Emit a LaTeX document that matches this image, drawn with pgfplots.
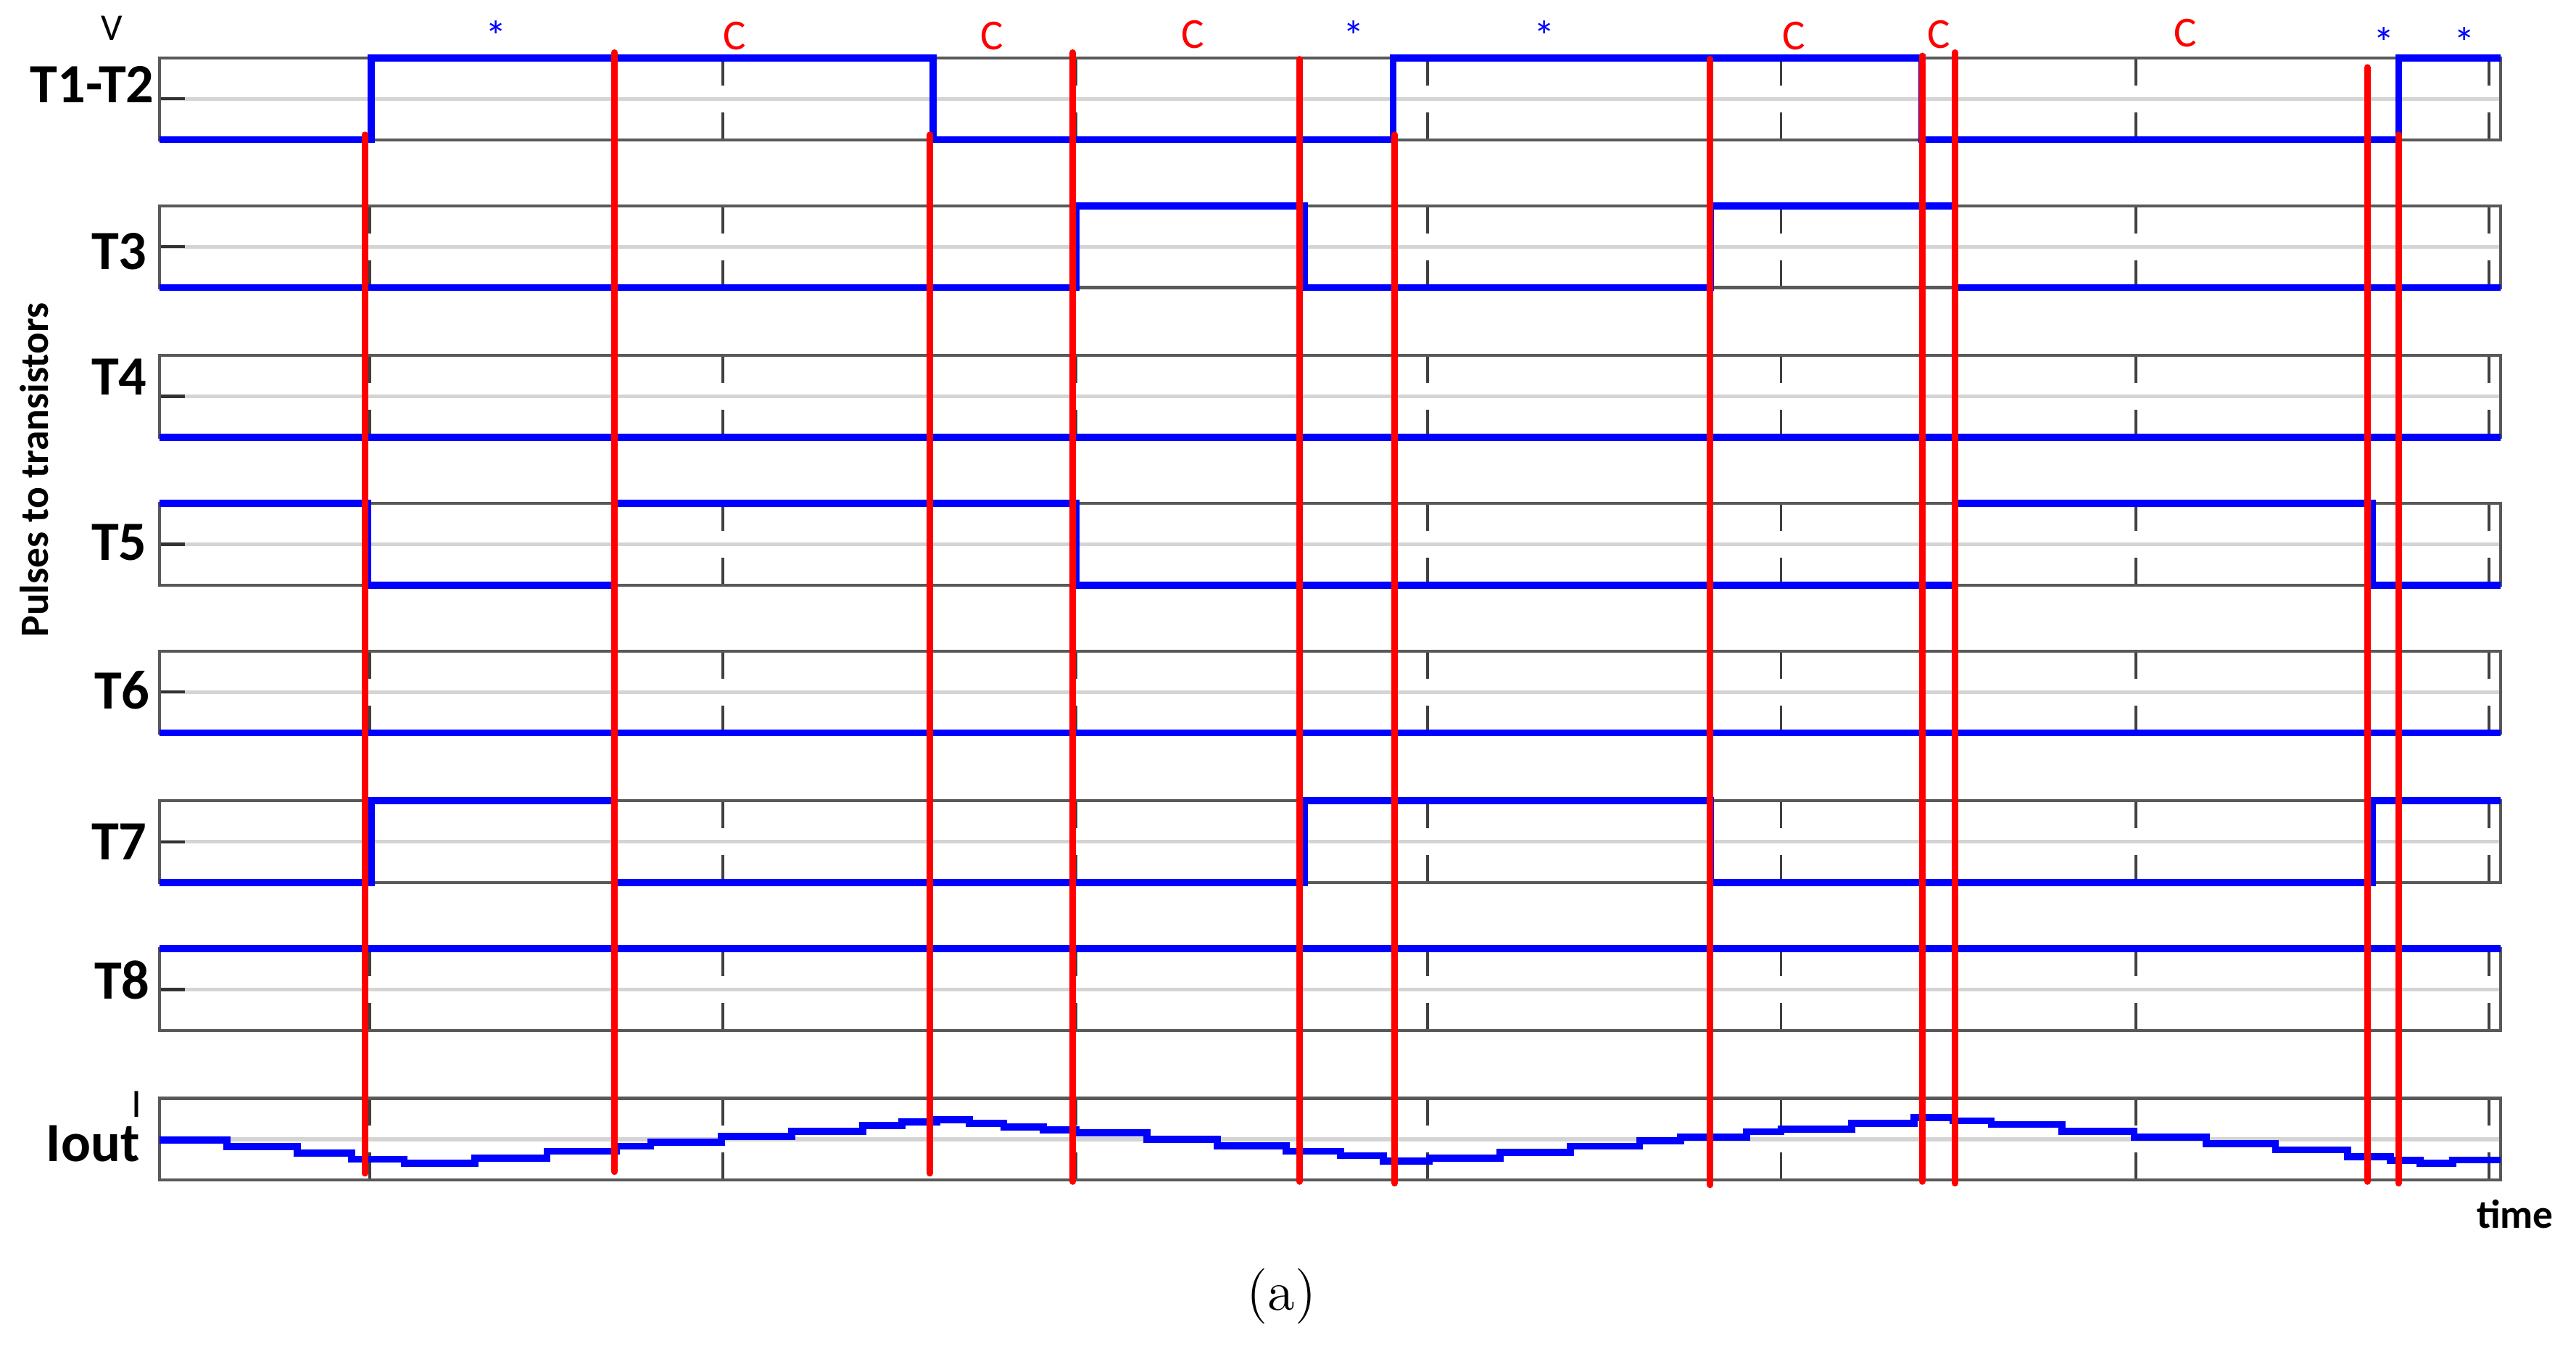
\documentclass[border=0pt]{standalone}
\usepackage{fontspec}
\usepackage{pgfplots}
\pgfplotsset{compat=1.18}
\newfontfamily\carlito{Carlito}
\newcommand\lab{\carlito\bfseries\fontsize{11}{13}\selectfont}

% one strip of the pulse diagram (x in pixels of the scope trace)
\pgfplotsset{
  panel/.style={
    anchor=south west,
    width=16.359cm, height=0.57cm, scale only axis,
    xmin=97, xmax=1522, ymin=0, ymax=1,
    xtick={225,440,655,869,1084,1300,1515}, ytick={0.5},
    xticklabels={}, yticklabels={},
    xmajorgrids, ymajorgrids,
    % period = strip height, so every grid line gets the same gap in its middle
    x grid style={black!75, line width=0.5pt, dash pattern=on 0.38cm off 0.19cm, dash phase=0.19cm},
    y grid style={black!17, line width=0.8pt},
    axis line style={black!65, line width=0.6pt},
    xtick style={draw=none},
    ytick style={black!80, line width=0.6pt},
    ytick pos=left, tick align=inside, major tick length=0.18cm,
    clip=false,
  },
  sig/.style={color={rgb,255:red,0;green,0;blue,255}, line width=1.4pt, const plot, no markers},
  redline/.style={color={rgb,255:red,255;green,0;blue,0}, line width=1.3pt, line cap=round, no markers},
}

\begin{document}
\begin{tikzpicture}
\path (0cm,0cm) rectangle (18cm,-9.402cm);

% T1-T2
\begin{axis}[panel, at={(1.1136cm,-0.9758cm)}]
\addplot[sig] coordinates {(97,0) (226,1) (568,0) (848,1) (1170,0) (1460,1) (1522,1)};
\node[anchor=east, inner sep=0, font=\lab] at (rel axis cs:0,0.68) [xshift=-0.03cm] {T1-T2};
\end{axis}

% T3
\begin{axis}[panel, at={(1.1136cm,-2.009cm)}]
\addplot[sig] coordinates {(97,0) (655,1) (794,0) (1041,1) (1190,0) (1522,0)};
\node[anchor=east, inner sep=0, font=\lab] at (rel axis cs:0,0.44) [xshift=-0.08cm] {T3};
\end{axis}

% T4
\begin{axis}[panel, at={(1.1136cm,-3.0537cm)}]
\addplot[sig] coordinates {(97,0) (1522,0)};
\node[anchor=east, inner sep=0, font=\lab] at (rel axis cs:0,0.74) [xshift=-0.08cm] {T4};
\end{axis}

% T5
\begin{axis}[panel, at={(1.1136cm,-4.0869cm)}]
\addplot[sig] coordinates {(97,1) (224,0) (374,1) (655,0) (1190,1) (1444,0) (1522,0)};
\node[anchor=east, inner sep=0, font=\lab] at (rel axis cs:0,0.52) [xshift=-0.08cm] {T5};
\end{axis}

% T6
\begin{axis}[panel, at={(1.1136cm,-5.1201cm)}]
\addplot[sig] coordinates {(97,0) (1522,0)};
\node[anchor=east, inner sep=0, font=\lab] at (rel axis cs:0,0.52) [xshift=-0.06cm] {T6};
\end{axis}

% T7
\begin{axis}[panel, at={(1.1136cm,-6.1648cm)}]
\addplot[sig] coordinates {(97,0) (226,1) (374,0) (794,1) (1041,0) (1444,1) (1522,1)};
\node[anchor=east, inner sep=0, font=\lab] at (rel axis cs:0,0.5) [xshift=-0.08cm] {T7};
\end{axis}

% T8
\begin{axis}[panel, at={(1.1136cm,-7.198cm)}]
\addplot[sig] coordinates {(97,1) (1522,1)};
\node[anchor=east, inner sep=0, font=\lab] at (rel axis cs:0,0.62) [xshift=-0.06cm] {T8};
\end{axis}

% Iout
\begin{axis}[panel, at={(1.1136cm,-8.2426cm)}]
\addplot[sig] coordinates {
  (97,0.488) (138,0.41) (181,0.326) (214,0.254) (246,0.202) (289,0.268)
  (333,0.35) (375,0.414) (396,0.46) (439,0.532) (482,0.598) (525,0.666)
  (549,0.71) (570,0.738) (590,0.694) (611,0.65) (635,0.614) (655,0.576)
  (698,0.498) (741,0.42) (783,0.35) (816,0.298) (842,0.232) (870,0.268)
  (913,0.34) (956,0.414) (998,0.48) (1023,0.526) (1063,0.592) (1084,0.62)
  (1127,0.694) (1165,0.762) (1189,0.724) (1212,0.68) (1255,0.598) (1299,0.526)
  (1343,0.444) (1385,0.37) (1429,0.282) (1455,0.238) (1473,0.202) (1493,0.244)
  (1522,0.244)};
\node[anchor=east, inner sep=0, font=\lab] at (rel axis cs:0,0.44) [xshift=-0.13cm] {Iout};
\end{axis}

% markers and texts over the whole figure
\begin{axis}[anchor=south west, at={(0cm,-9.402cm)}, width=18cm, height=9.402cm, scale only axis,
  xmin=0, xmax=1568, ymin=0, ymax=819, y dir=reverse, hide axis, clip=false]
\addplot[redline] coordinates {(222,82) (222,714)};
\addplot[redline] coordinates {(374,32) (374,713)};
\addplot[redline] coordinates {(566,82) (566,714)};
\addplot[redline] coordinates {(653,32) (653,719)};
\addplot[redline] coordinates {(791,36) (791,719)};
\addplot[redline] coordinates {(849,82) (849,720)};
\addplot[redline] coordinates {(1041,36) (1041,721)};
\addplot[redline] coordinates {(1170,34) (1170,719)};
\addplot[redline] coordinates {(1190,32) (1190,720)};
\addplot[redline] coordinates {(1441,41) (1441,719)};
\addplot[redline] coordinates {(1460,82) (1460,720)};

\begin{scope}[every node/.style={inner sep=0, font=\carlito\fontsize{8.5}{9}\selectfont, text=blue}]
\node at (axis cs:302,22) {*};
\node at (axis cs:824,22) {*};
\node at (axis cs:940,22) {*};
\node at (axis cs:1451,26) {*};
\node at (axis cs:1500,26) {*};
\end{scope}
\begin{scope}[every node/.style={inner sep=0, font=\carlito\fontsize{8.5}{9}\selectfont, text=red}]
\node at (axis cs:447,22) {C};
\node at (axis cs:604,22) {C};
\node at (axis cs:726,21) {C};
\node at (axis cs:1092,22) {C};
\node at (axis cs:1180,21) {C};
\node at (axis cs:1330,20) {C};
\end{scope}

\node[inner sep=0, font=\carlito\fontsize{7.5}{8}\selectfont] at (axis cs:68,17) {V};
\node[inner sep=0, font=\carlito\fontsize{8}{9}\selectfont] at (axis cs:83,672) {I};
\node[inner sep=0, font=\carlito\bfseries\fontsize{8}{9}\selectfont] at (axis cs:1531,739) {time};
\node[inner sep=0, rotate=90, font=\carlito\bfseries\fontsize{8}{9}\selectfont] at (axis cs:21,286) {Pulses to transistors};
\node[inner sep=0, font=\fontsize{11}{13}\selectfont] at (axis cs:780,789) {(a)};
\end{axis}
\end{tikzpicture}
\end{document}
